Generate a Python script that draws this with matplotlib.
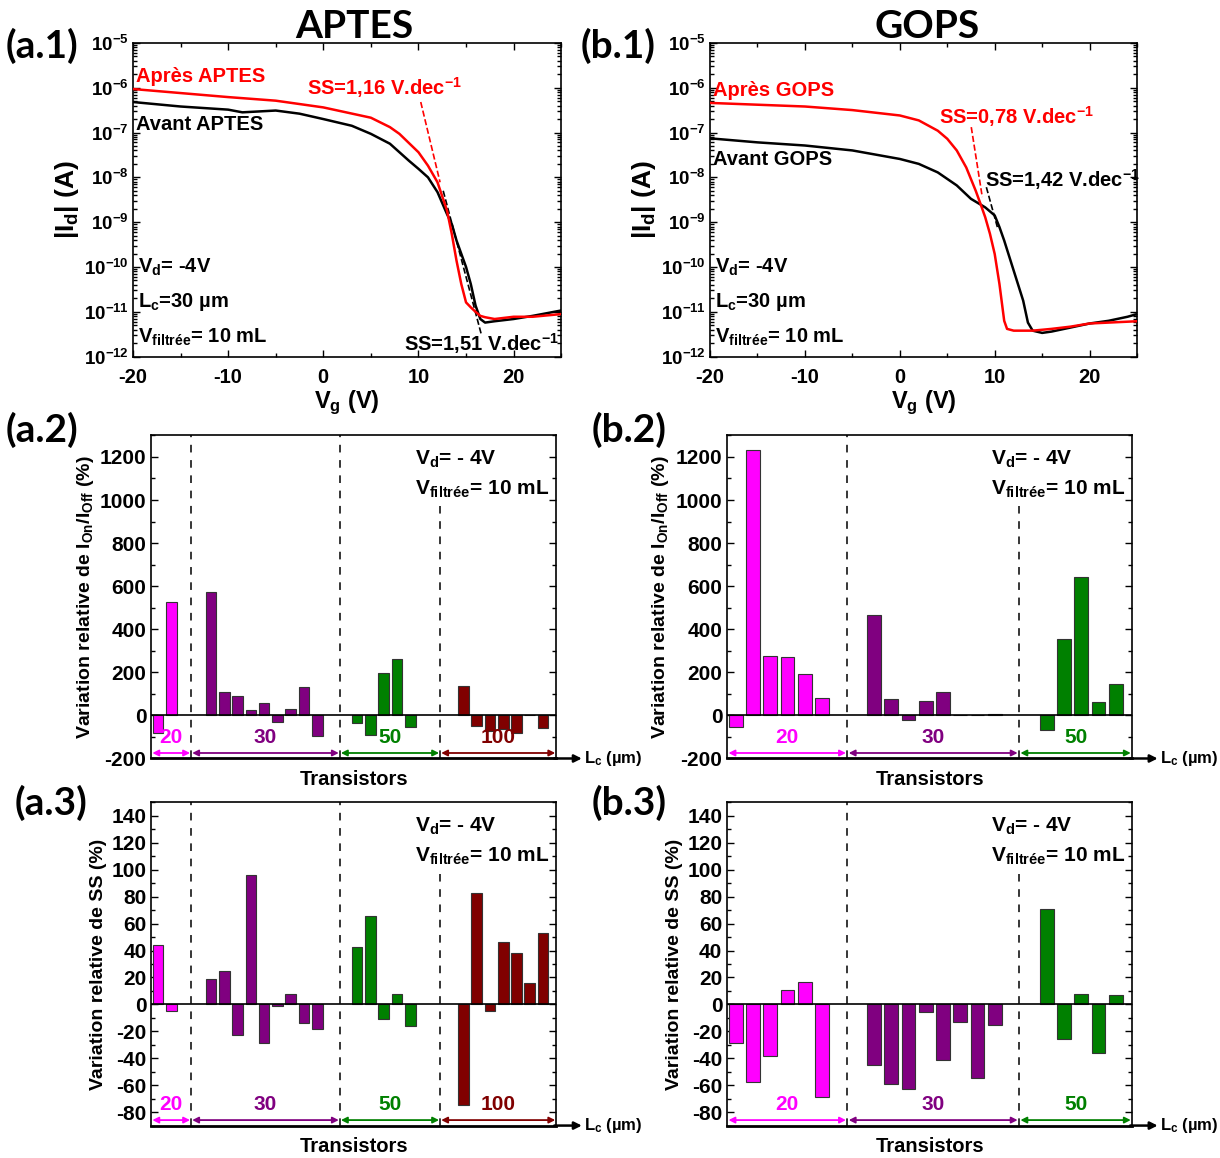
import numpy as np
import matplotlib
matplotlib.use('Agg')
import matplotlib.pyplot as plt
from matplotlib.ticker import MultipleLocator, LogLocator, NullFormatter

plt.rcParams['font.family'] = ['Liberation Sans', 'DejaVu Sans']
plt.rcParams['font.weight'] = 'bold'
plt.rcParams['axes.labelweight'] = 'bold'
plt.rcParams['axes.unicode_minus'] = False
plt.rcParams['mathtext.fontset'] = 'custom'
plt.rcParams['mathtext.rm'] = 'Liberation Sans:bold'
plt.rcParams['mathtext.bf'] = 'Liberation Sans:bold'
plt.rcParams['mathtext.it'] = 'Liberation Sans:bold'
plt.rcParams['mathtext.default'] = 'bf'

# ---- transfer curves (log10 of |Id|) ----
vg_aptes_apres = [-20, -15, -10, -5, 0, 5, 7, 8, 10, 11, 12, 13, 13.5, 14, 14.5, 15, 15.5, 16, 16.5, 17, 18, 20, 22, 25]
log_aptes_apres = [-6.03, -6.12, -6.21, -6.29, -6.44, -6.67, -6.88, -7.03, -7.44, -7.74, -8.11, -8.74, -9.26,
                   -9.86, -10.38, -10.79, -10.9, -11.0, -11.09, -11.12, -11.16, -11.11, -11.11, -11.05]
vg_aptes_avant = [-20, -15, -10, -8.5, -5, -2.5, 0, 3, 5, 7, 9, 10, 11, 12, 13, 13.5, 14, 15, 15.5, 16, 16.5, 17, 18, 20, 22, 25]
log_aptes_avant = [-6.32, -6.42, -6.49, -6.55, -6.51, -6.58, -6.70, -6.85, -7.03, -7.25, -7.63, -7.81, -8.0, -8.33,
                   -8.82, -9.04, -9.41, -10.0, -10.38, -10.86, -11.16, -11.24, -11.21, -11.16, -11.09, -10.97]

vg_gops_apres = [-20, -10, -5, 0, 2, 4, 5, 6, 7, 8, 8.5, 9, 9.5, 10, 10.5, 11, 11.3, 12, 14, 16, 18, 20, 22, 25]
log_gops_apres = [-6.34, -6.42, -6.50, -6.62, -6.73, -6.96, -7.14, -7.40, -7.78, -8.30, -8.59, -8.89, -9.26, -9.71,
                  -10.38, -11.2, -11.38, -11.42, -11.42, -11.38, -11.33, -11.26, -11.24, -11.21]
vg_gops_avant = [-20, -15, -10, -5, 0, 2, 4, 6, 7.5, 9, 10, 10.5, 11, 12, 13, 13.5, 14, 15, 16, 18, 20, 22, 24, 25]
log_gops_avant = [-7.13, -7.22, -7.29, -7.40, -7.59, -7.70, -7.89, -8.18, -8.48, -8.67, -8.85, -9.11, -9.41, -10.08,
                  -10.75, -11.24, -11.42, -11.47, -11.44, -11.35, -11.26, -11.2, -11.11, -11.05]

# SS tangent segments (Vg, log10 Id)
ss_aptes_red = ([10.24, 12.27], [-6.32, -8.11])
ss_aptes_black = ([12.6, 16.6], [-8.3, -11.5])
ss_gops_red = ([7.53, 8.69], [-6.88, -8.44])
ss_gops_black = ([9.12, 10.28], [-8.22, -9.11])

# ---- bar data ----
lc_aptes = ['20', '30', '50', '100']
ion_aptes = [[-82, 528],
             [572, 111, 88, 25, 57, -31, 28, 131, -94],
             [-35, -89, 195, 260, -54],
             [138, -51, -72, -65, -83, 2, -58]]
ss_aptes = [[44, -5],
            [19, 25, -23, 96, -29, -1.5, 8, -14, -18.5],
            [43, 66, -11, 7.4, -16],
            [-75, 83, -5, 46, 38, 16, 53]]

lc_gops = ['20', '30', '50']
ion_gops = [[-52, 1232, 278, 272, 191, 82],
            [468, 75, -22, 69, 108, 3, 3, 6],
            [-69, 357, 642, 62, 146]]
ss_gops = [[-29, -58, -38, 11, 16.5, -68.6],
           [-45, -59, -62.7, -6, -41, -13, -55, -15],
           [71, -26, 8, -36, 7]]

group_colors = ['#ff00ff', '#800080', '#008000', '#800000']

# layout of the transistor slots
aptes_start = [0, 4, 15, 23]
aptes_bounds = [-0.5, 2.5, 13.7, 21.25, 30.0]
gops_start = [0, 8, 18]
gops_bounds = [-0.5, 6.46, 16.4, 22.95]

fig = plt.figure(figsize=(12.2, 11.58), dpi=100)


def style_ticks(ax, size):
    ax.tick_params(which='both', direction='in', top=True, right=True, labelsize=size, width=1)
    ax.tick_params(which='major', length=5)
    ax.tick_params(which='minor', length=3)
    for s in ax.spines.values():
        s.set_linewidth(1.2)


def transfer(ax, v1, l1, v2, l2, seg_r, seg_b, lab_apres, lab_avant, pos):
    ax.set_yscale('log')
    ax.plot(seg_r[0], 10 ** np.array(seg_r[1]), '--', color='red', lw=1.2, zorder=1)
    ax.plot(seg_b[0], 10 ** np.array(seg_b[1]), '--', color='black', lw=1.2, zorder=1)
    ax.plot(v2, 10 ** np.array(l2), color='black', lw=1.8, zorder=2)
    ax.plot(v1, 10 ** np.array(l1), color='red', lw=1.8, zorder=3)
    ax.set_xlim(-20, 25)
    ax.set_ylim(1e-12, 1e-5)
    ax.xaxis.set_major_locator(MultipleLocator(10))
    ax.xaxis.set_minor_locator(MultipleLocator(5))
    ax.yaxis.set_major_locator(LogLocator(base=10, numticks=20))
    ax.yaxis.set_minor_locator(LogLocator(base=10, subs=np.arange(2, 10), numticks=20))
    ax.yaxis.set_minor_formatter(NullFormatter())
    style_ticks(ax, 13.5)
    ax.tick_params(axis='x', which='major', pad=8, labelsize=14.5)
    ax.tick_params(axis='y', which='major', pad=3)
    ax.set_xlabel('V$_{g}$ (V)', fontsize=17, labelpad=1)
    ax.set_ylabel('|I$_{d}$| (A)', fontsize=19, labelpad=2)
    fs = 14.5
    ax.text(pos['apres'][0], 10 ** pos['apres'][1], lab_apres, color='red', fontsize=fs, va='center')
    ax.text(pos['avant'][0], 10 ** pos['avant'][1], lab_avant, color='black', fontsize=fs, va='center')
    ax.text(pos['ssr'][0], 10 ** pos['ssr'][1], pos['ssr'][2], color='red', fontsize=fs, va='center')
    ax.text(pos['ssb'][0], 10 ** pos['ssb'][1], pos['ssb'][2], color='black', fontsize=fs, va='center')
    ax.text(pos['x'], 10 ** -10.0, 'V$_{d}$= -4V', fontsize=fs, va='center')
    ax.text(pos['x'], 10 ** -10.79, 'L$_{c}$=30 µm', fontsize=fs, va='center')
    ax.text(pos['x'], 10 ** -11.57, 'V$_{filtrée}$= 10 mL', fontsize=fs, va='center')


def bars(ax, groups, starts, bounds, labels, ylim, major, minor, ylabel):
    for g, (vals, st) in enumerate(zip(groups, starts)):
        x = st + np.arange(len(vals))
        ax.bar(x, vals, width=0.8, color=group_colors[g], edgecolor='#333333', lw=0.8, zorder=2)
    ax.axhline(0, color='black', lw=1.2, zorder=3)
    ax.set_xlim(bounds[0], bounds[-1])
    ax.set_ylim(*ylim)
    span = ylim[1] - ylim[0]
    for i, b in enumerate(bounds[1:-1]):
        top = 0.78 if i == len(bounds) - 3 else 1
        ax.axvline(b, ymax=top, color='black', ls=(0, (5, 5)), lw=1.1, zorder=1)
    arr_y = ylim[0] + 0.017 * span
    lab_y = ylim[0] + 0.065 * span
    for g, lab in enumerate(labels):
        x0, x1 = bounds[g] + 0.08, bounds[g + 1] - 0.08
        ax.annotate('', xy=(x1, arr_y), xytext=(x0, arr_y),
                    arrowprops=dict(arrowstyle='<|-|>', color=group_colors[g], lw=1.3,
                                    mutation_scale=9, shrinkA=0, shrinkB=0))
        ax.text((x0 + x1) / 2, lab_y, lab, color=group_colors[g], fontsize=15, ha='center', va='center')
    ax.yaxis.set_major_locator(MultipleLocator(major))
    ax.yaxis.set_minor_locator(MultipleLocator(minor))
    ax.set_xticks([])
    style_ticks(ax, 15)
    ax.spines['bottom'].set_linewidth(2)
    ax.annotate('', xy=(1.063, 0), xytext=(0.995, 0), xycoords='axes fraction',
                arrowprops=dict(arrowstyle='-|>', color='black', lw=1.8, mutation_scale=11,
                                shrinkA=0, shrinkB=0), annotation_clip=False)
    ax.text(1.068, 0, 'L$_{c}$ (µm)', transform=ax.transAxes, fontsize=12, va='center', ha='left')
    ax.set_xlabel('Transistors', fontsize=14.5, labelpad=8)
    ax.set_ylabel(ylabel, fontsize=14, labelpad=3)
    ax.text(0.652, 0.925, 'V$_{d}$= - 4V', transform=ax.transAxes, fontsize=15, va='center')
    ax.text(0.652, 0.833, 'V$_{filtrée}$= 10 mL', transform=ax.transAxes, fontsize=15, va='center')


ax_a1 = fig.add_axes([0.109, 0.692, 0.351, 0.271])
ax_b1 = fig.add_axes([0.582, 0.692, 0.350, 0.271])
ax_a2 = fig.add_axes([0.124, 0.345, 0.332, 0.279])
ax_b2 = fig.add_axes([0.596, 0.345, 0.332, 0.279])
ax_a3 = fig.add_axes([0.124, 0.028, 0.332, 0.279])
ax_b3 = fig.add_axes([0.596, 0.028, 0.332, 0.279])

transfer(ax_a1, vg_aptes_apres, log_aptes_apres, vg_aptes_avant, log_aptes_avant, ss_aptes_red, ss_aptes_black,
         'Après APTES', 'Avant APTES',
         dict(apres=(-19.7, -5.75), avant=(-19.7, -6.82), ssr=(-1.7, -6.0, 'SS=1,16 V.dec$^{-1}$'),
              ssb=(8.5, -11.7, 'SS=1,51 V.dec$^{-1}$'), x=-19.5))
transfer(ax_b1, vg_gops_apres, log_gops_apres, vg_gops_avant, log_gops_avant, ss_gops_red, ss_gops_black,
         'Après GOPS', 'Avant GOPS',
         dict(apres=(-19.7, -6.06), avant=(-19.7, -7.61), ssr=(4.1, -6.64, 'SS=0,78 V.dec$^{-1}$'),
              ssb=(9.0, -8.04, 'SS=1,42 V.dec$^{-1}$'), x=-19.5))

ion_label = 'Variation relative de I$_{On}$/I$_{Off}$ (%)'
ss_label = 'Variation relative de SS (%)'
bars(ax_a2, ion_aptes, aptes_start, aptes_bounds, lc_aptes, (-200, 1300), 200, 100, ion_label)
bars(ax_b2, ion_gops, gops_start, gops_bounds, lc_gops, (-200, 1300), 200, 100, ion_label)
bars(ax_a3, ss_aptes, aptes_start, aptes_bounds, lc_aptes, (-90, 150), 20, 10, ss_label)
bars(ax_b3, ss_gops, gops_start, gops_bounds, lc_gops, (-90, 150), 20, 10, ss_label)

# titles and panel labels
pfont = dict(fontsize=28, fontweight='bold', family=['Lato', 'DejaVu Sans'])
fig.text(0.29, 0.977, 'APTES', ha='center', va='center', **pfont)
fig.text(0.76, 0.977, 'GOPS', ha='center', va='center', **pfont)
fig.text(0.005, 0.960, '(a.1)', va='center', **pfont)
fig.text(0.476, 0.960, '(b.1)', va='center', **pfont)
fig.text(0.005, 0.629, '(a.2)', va='center', **pfont)
fig.text(0.485, 0.629, '(b.2)', va='center', **pfont)
fig.text(0.012, 0.307, '(a.3)', va='center', **pfont)
fig.text(0.485, 0.307, '(b.3)', va='center', **pfont)

fig.savefig('out.png', dpi=100)
